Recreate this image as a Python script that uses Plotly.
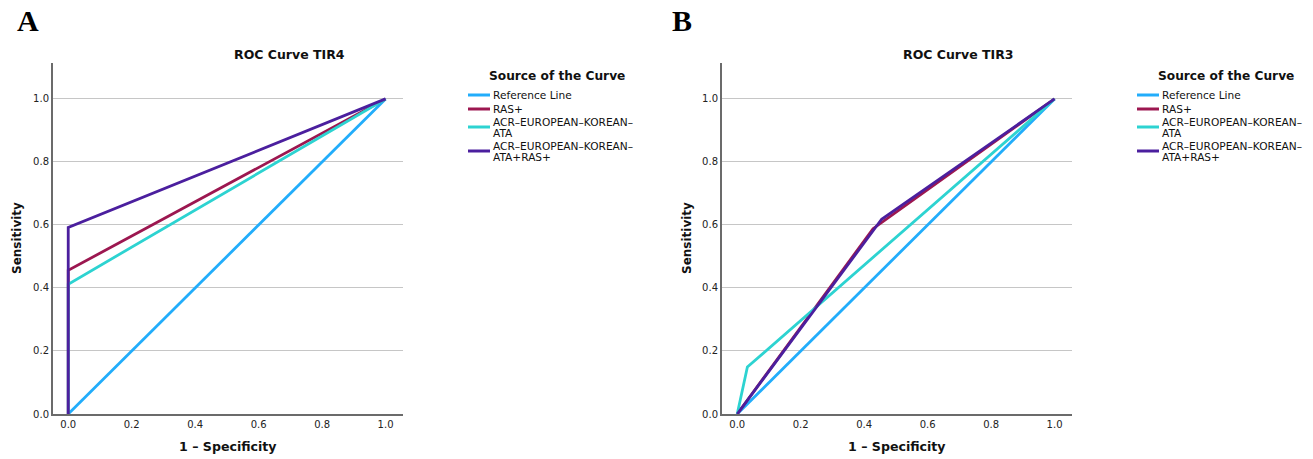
import plotly.graph_objects as go

# ---------------- data ----------------
series_names = ["Reference Line", "RAS+", "ACR–EUROPEAN–KOREAN–<br>ATA", "ACR–EUROPEAN–KOREAN–<br>ATA+RAS+"]
series_colors = ["#22adfb", "#9c1750", "#2dd3d1", "#4b1f9e"]

# Panel A: ROC Curve TIR4
tir4_ref_x = [0.0, 1.0]
tir4_ref_y = [0.0, 1.0]
tir4_ras_x = [0.0, 0.0, 1.0]
tir4_ras_y = [0.0, 0.456, 1.0]
tir4_acr_x = [0.0, 0.0, 1.0]
tir4_acr_y = [0.0, 0.412, 1.0]
tir4_comb_x = [0.0, 0.0, 1.0]
tir4_comb_y = [0.0, 0.592, 1.0]

# Panel B: ROC Curve TIR3
tir3_ref_x = [0.0, 1.0]
tir3_ref_y = [0.0, 1.0]
tir3_ras_x = [0.0, 0.428, 1.0]
tir3_ras_y = [0.0, 0.588, 1.0]
tir3_acr_x = [0.0, 0.032, 1.0]
tir3_acr_y = [0.0, 0.149, 1.0]
tir3_comb_x = [0.0, 0.455, 1.0]
tir3_comb_y = [0.0, 0.618, 1.0]

tick_vals = [0.0, 0.2, 0.4, 0.6, 0.8, 1.0]
tick_text = ["0.0", "0.2", "0.4", "0.6", "0.8", "1.0"]

W, H = 1313, 459
FONT = "DejaVu Sans"

fig = go.Figure()

panels = [
    (("x", "y"), [(tir4_ref_x, tir4_ref_y), (tir4_ras_x, tir4_ras_y),
                  (tir4_acr_x, tir4_acr_y), (tir4_comb_x, tir4_comb_y)]),
    (("x2", "y2"), [(tir3_ref_x, tir3_ref_y), (tir3_ras_x, tir3_ras_y),
                    (tir3_acr_x, tir3_acr_y), (tir3_comb_x, tir3_comb_y)]),
]
for (xa, ya), data in panels:
    for name, color, (xs, ys) in zip(series_names, series_colors, data):
        fig.add_trace(go.Scatter(
            x=xs, y=ys, mode="lines", name=name, xaxis=xa, yaxis=ya,
            line=dict(color=color, width=2.8), hoverinfo="skip", showlegend=False,
        ))

def px_x(p):
    return p / W

def px_y(p):
    return 1 - p / H

axis_common = dict(
    showline=True, linecolor="#6b6b6b", linewidth=2, mirror=False,
    zeroline=False, ticks="", tickfont=dict(family=FONT, size=10, color="#222"),
    tickvals=tick_vals, ticktext=tick_text,
)
xr = [-0.048, 1.055]
yr = [0.0, 1.114]

fig.update_layout(
    width=W, height=H,
    margin=dict(l=0, r=0, t=0, b=0, autoexpand=False),
    paper_bgcolor="white", plot_bgcolor="white",
    font=dict(family=FONT, color="#111"),
    xaxis=dict(domain=[px_x(53), px_x(403)], range=xr, anchor="y", showgrid=False, **axis_common),
    yaxis=dict(domain=[px_y(414), px_y(63)], range=yr, anchor="x", showgrid=True,
               gridcolor="#c6c6c6", gridwidth=1, **axis_common),
    xaxis2=dict(domain=[px_x(722), px_x(1072)], range=xr, anchor="y2", showgrid=False, **axis_common),
    yaxis2=dict(domain=[px_y(414), px_y(63)], range=yr, anchor="x2", showgrid=True,
                gridcolor="#c6c6c6", gridwidth=1, **axis_common),
    showlegend=False,
)

annotations = []
shapes = []
# panel labels
for txt, cx in [("A", 28), ("B", 682)]:
    annotations.append(dict(text=f"<b>{txt}</b>", x=px_x(cx), y=px_y(21), xref="paper", yref="paper",
                            xanchor="center", yanchor="middle", showarrow=False,
                            font=dict(family="Liberation Serif", size=30, color="#000")))
# titles
for txt, cx in [("ROC Curve TIR4", 289), ("ROC Curve TIR3", 958)]:
    annotations.append(dict(text=f"<b>{txt}</b>", x=px_x(cx), y=px_y(54), xref="paper", yref="paper",
                            xanchor="center", yanchor="middle", showarrow=False,
                            font=dict(family=FONT, size=12.5, color="#111")))
# axis titles
for cx in [228, 897]:
    annotations.append(dict(text="<b>1 – Specificity</b>", x=px_x(cx), y=px_y(446), xref="paper", yref="paper",
                            xanchor="center", yanchor="middle", showarrow=False,
                            font=dict(family=FONT, size=12.6, color="#111")))
for cx in [17, 687]:
    annotations.append(dict(text="<b>Sensitivity</b>", x=px_x(cx), y=px_y(238), xref="paper", yref="paper",
                            xanchor="center", yanchor="middle", showarrow=False, textangle=-90,
                            font=dict(family=FONT, size=12, color="#111")))

# legends (drawn as text + line samples)
symbol_y = [95, 109, 127, 151]
text_rows = [[95], [109], [122, 133], [146, 157]]
for off in [0, 669]:
    annotations.append(dict(text="<b>Source of the Curve</b>", x=px_x(487 + off), y=px_y(76),
                            xref="paper", yref="paper", xanchor="left", yanchor="middle",
                            showarrow=False, font=dict(family=FONT, size=12.2, color="#111")))
    for name, color, sy, rows in zip(series_names, series_colors, symbol_y, text_rows):
        shapes.append(dict(type="line", xref="paper", yref="paper",
                           x0=px_x(468 + off), x1=px_x(490 + off), y0=px_y(sy), y1=px_y(sy),
                           line=dict(color=color, width=3)))
        for line_txt, ty in zip(name.split("<br>"), rows):
            annotations.append(dict(text=line_txt, x=px_x(491 + off), y=px_y(ty),
                                    xref="paper", yref="paper", xanchor="left", yanchor="middle",
                                    showarrow=False, font=dict(family=FONT, size=10.6, color="#111")))

fig.update_layout(annotations=annotations, shapes=shapes)

fig.write_html(
    "out.html",
    config={"displayModeBar": False},
    post_script="document.body.style.margin='0';document.body.style.overflow='hidden';",
)
